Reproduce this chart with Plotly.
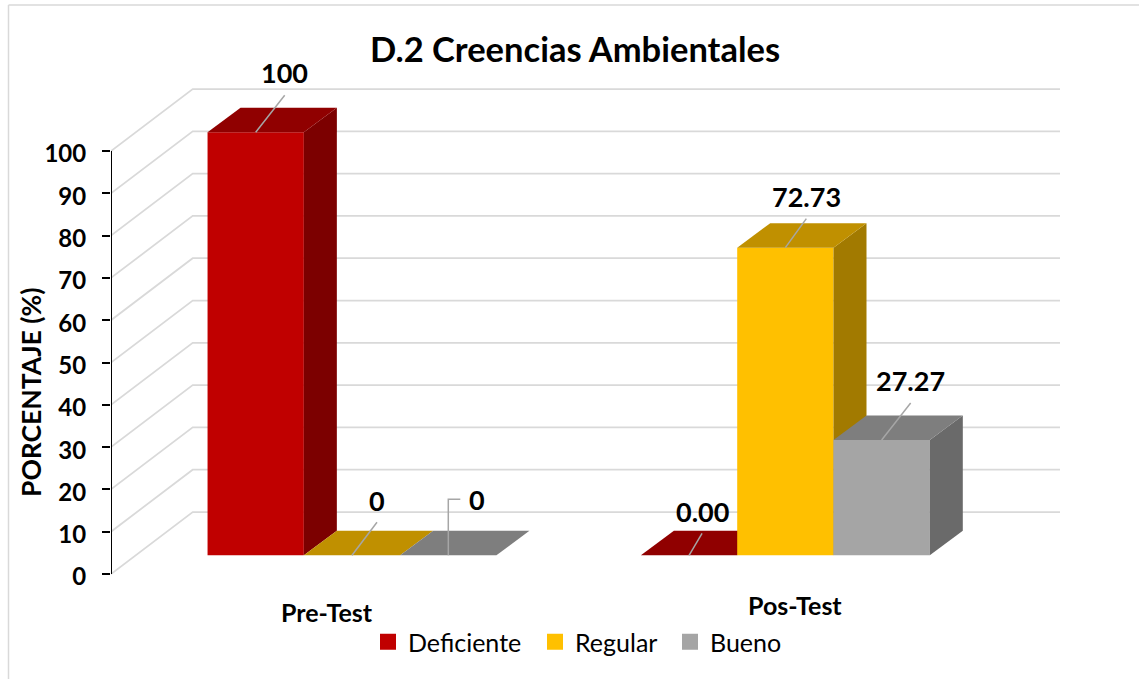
import plotly.graph_objects as go

categories = ["Pre-Test", "Pos-Test"]
series_names = ["Deficiente", "Regular", "Bueno"]
deficiente = [100, 0.00]
regular = [0, 72.73]
bueno = [0, 27.27]
series_values = [deficiente, regular, bueno]
value_labels = [["100", "0.00"], ["0", "72.73"], ["0", "27.27"]]
y_ticks = [0, 10, 20, 30, 40, 50, 60, 70, 80, 90, 100]

# front, top and side colour of each series
FRONT = ["#c00000", "#ffc000", "#a5a5a5"]
TOP = ["#900000", "#c09000", "#7e7e7e"]
SIDE = ["#7c0000", "#a27a00", "#6a6a6a"]
GRID = "#d9d9d9"
LEADER = "#a6a6a6"
FONT = "Lato, sans-serif"

WIDTH, HEIGHT = 1139, 679
LEFT = 111  # px of the value axis
PX_X = 96.3  # px per bar width
PX_Y = 4.23  # px per percent
ZERO_PX = 574
GROUP_PX = 352  # px of the centre of the first group
GROUP_STEP = 4.5  # bar widths between groups

# fake 3d, all in px then divided by the scales
BAR_DX, BAR_DY = 33 / PX_X, 24.5 / PX_Y
WALL_DX, WALL_DY = 81.7 / PX_X, 62 / PX_Y
FLOOR = 18.7 / PX_Y
X_MIN = (LEFT - GROUP_PX) / PX_X
X_MAX = (WIDTH - GROUP_PX) / PX_X
WALL_END = (1060 - GROUP_PX) / PX_X

# leader end relative to the middle of the bar's top front edge, px
leader_ends = [[(29, -37), (13, -22)], [(25, -33), (21, -29)], [(12, -56), (29, -37)]]
label_shift = [[(0, -23), (0, -22)], [(0, -22), (0, -22)], [(17, 0), (0, -22)]]


def poly(xs, ys, color):
    return go.Scatter(
        x=xs + xs[:1],
        y=ys + ys[:1],
        mode="lines",
        fill="toself",
        fillcolor=color,
        line=dict(width=0),
        hoverinfo="skip",
        showlegend=False,
    )


fig = go.Figure()

# walls and axis line
grid_x, grid_y = [], []
for v in y_ticks:
    grid_x += [X_MIN, X_MIN + WALL_DX, WALL_END, None]
    grid_y += [v, v + WALL_DY, v + WALL_DY, None]
fig.add_trace(
    go.Scatter(
        x=grid_x, y=grid_y, mode="lines", line=dict(color=GRID, width=1.75),
        hoverinfo="skip", showlegend=False, cliponaxis=False,
    )
)
fig.add_trace(
    go.Scatter(
        x=[X_MIN, X_MIN], y=[y_ticks[0], y_ticks[-1]], mode="lines",
        line=dict(color="#000000", width=2),
        hoverinfo="skip", showlegend=False, cliponaxis=False,
    )
)

annotations = []
leader_x, leader_y = [], []
for g in range(len(categories)):
    for s in range(len(series_names)):
        val = series_values[s][g]
        x0 = g * GROUP_STEP + s - 1.5
        x1 = x0 + 1
        base = FLOOR
        top = FLOOR + val
        if val > 0:
            fig.add_trace(poly([x0, x1, x1, x0], [base, base, top, top], FRONT[s]))
            fig.add_trace(
                poly(
                    [x1, x1 + BAR_DX, x1 + BAR_DX, x1],
                    [base, base + BAR_DY, top + BAR_DY, top],
                    SIDE[s],
                )
            )
        fig.add_trace(
            poly(
                [x0, x1, x1 + BAR_DX, x0 + BAR_DX],
                [top, top, top + BAR_DY, top + BAR_DY],
                TOP[s],
            )
        )

        mid = (x0 + x1) / 2
        end_x = mid + leader_ends[s][g][0] / PX_X
        end_y = top - leader_ends[s][g][1] / PX_Y
        if s == 2 and g == 0:
            # elbow leader
            leader_x += [mid, mid, end_x, None]
            leader_y += [top, end_y, end_y, None]
        else:
            leader_x += [mid, end_x, None]
            leader_y += [top, end_y, None]
        annotations.append(
            dict(
                x=end_x + label_shift[s][g][0] / PX_X,
                y=end_y - label_shift[s][g][1] / PX_Y,
                xref="x", yref="y", text=value_labels[s][g],
                showarrow=False, font=dict(family=FONT, size=27, color="#000000", weight="bold"),
            )
        )

fig.add_trace(
    go.Scatter(
        x=leader_x, y=leader_y, mode="lines", line=dict(color=LEADER, width=1.5),
        hoverinfo="skip", showlegend=False,
    )
)

# one legend per series so each entry can sit where the original has it
legend_ids = ["legend", "legend2", "legend3"]
legend_px = [368, 535, 670]
for s, name in enumerate(series_names):
    fig.add_trace(
        go.Scatter(
            x=[None], y=[None], mode="markers", name=name, legend=legend_ids[s],
            marker=dict(symbol="square", size=16, color=FRONT[s]),
        )
    )

# category labels sit at slightly different heights in the original
cat_px = [(327, 612), (795, 605)]
for name, (px, py) in zip(categories, cat_px):
    annotations.append(
        dict(
            x=(px - GROUP_PX) / PX_X, y=(ZERO_PX - py) / PX_Y, xref="x", yref="y",
            text=name, showarrow=False,
            font=dict(family=FONT, size=25, color="#000000", weight="bold"),
        )
    )

plot_w = WIDTH - LEFT
frame_l = (8.5 - LEFT) / plot_w
frame_t = 1 - 5 / HEIGHT

# value axis title is not centred on the plot area here, so it is placed by hand
annotations.append(
    dict(
        x=(31 - LEFT) / plot_w, y=1 - 392 / HEIGHT, xref="paper", yref="paper",
        xanchor="center", yanchor="middle",
        text="PORCENTAJE (%)", textangle=-90, showarrow=False,
        font=dict(family=FONT, size=26.5, color="#000000", weight="bold"),
    )
)

fig.update_layout(
    width=WIDTH,
    height=HEIGHT,
    margin=dict(l=LEFT, r=0, t=0, b=0),
    paper_bgcolor="#ffffff",
    plot_bgcolor="#ffffff",
    font=dict(family=FONT, color="#000000"),
    title=dict(
        text="D.2 Creencias Ambientales",
        x=575 / WIDTH, y=1 - 50 / HEIGHT, xanchor="center", yanchor="middle",
        font=dict(family=FONT, size=34.5, color="#000000", weight="bold"),
    ),
    annotations=annotations,
    shapes=[
        dict(type="line", xref="paper", yref="paper", x0=frame_l, x1=frame_l,
             y0=0, y1=frame_t, line=dict(color=GRID, width=1.5)),
        dict(type="line", xref="paper", yref="paper", x0=frame_l, x1=1,
             y0=frame_t, y1=frame_t, line=dict(color=GRID, width=1.5)),
    ],
)
for legend_id, px in zip(legend_ids, legend_px):
    fig.update_layout(
        {
            legend_id: dict(
                orientation="h", x=(px - LEFT) / plot_w, y=1 - 642 / HEIGHT,
                xanchor="left", yanchor="middle",
                font=dict(family=FONT, size=25, color="#000000"),
            )
        }
    )
fig.update_xaxes(range=[X_MIN, X_MAX], visible=False, fixedrange=True)
fig.update_yaxes(
    range=[(ZERO_PX - HEIGHT) / PX_Y, ZERO_PX / PX_Y],
    tickvals=y_ticks,
    ticks="outside",
    ticklen=8,
    tickwidth=2,
    tickcolor="#000000",
    tickfont=dict(family=FONT, size=24, color="#000000", weight="bold"),
    ticklabelstandoff=11,
    ticklabelshift=3,
    showgrid=False,
    zeroline=False,
    showline=False,
    fixedrange=True,
)

# the browser's default body margin would push the fixed-size figure by 8px
fig.write_html(
    "out.html",
    config=dict(displayModeBar=False),
    post_script="document.body.style.margin = '0';",
)
